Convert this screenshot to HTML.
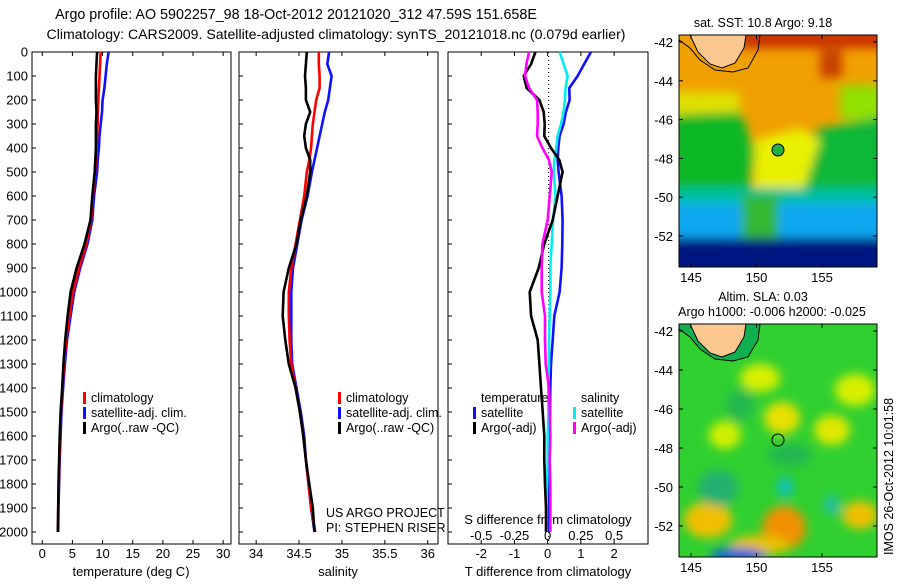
<!DOCTYPE html>
<html><head><meta charset="utf-8"><style>
body{margin:0;background:#fff;}
svg text{font-family:"Liberation Sans",sans-serif;fill:#000;}
</style></head><body>
<svg id="c" width="900" height="580" viewBox="0 0 900 580">
<defs>
<filter id="bl" x="-10%" y="-10%" width="120%" height="120%"><feGaussianBlur stdDeviation="5"/></filter>
<clipPath id="m1c"><rect x="679" y="35" width="198" height="232"/></clipPath>
<clipPath id="m2c"><rect x="679" y="324" width="198" height="233"/></clipPath>
</defs>
<text x="296" y="19" font-size="14.3" text-anchor="middle">Argo profile: AO 5902257_98 18-Oct-2012 20121020_312 47.59S 151.658E</text>
<text x="336" y="39" font-size="14.1" text-anchor="middle">Climatology: CARS2009. Satellite-adjusted climatology: synTS_20121018.nc (0.079d earlier)</text>

<!-- map 1 -->
<g>
<g clip-path="url(#m1c)">
<rect x="679" y="35" width="198" height="232" fill="#f0a000"/>
<g filter="url(#bl)">
<rect x="740" y="30" width="150" height="18" fill="#c83000"/>
<rect x="820" y="50" width="22" height="28" fill="#c84000"/>
<rect x="670" y="92" width="70" height="25" fill="#e0e000"/>
<rect x="840" y="85" width="50" height="35" fill="#90e000"/>
<polygon points="670,115 740,112 755,150 750,190 670,190" fill="#10b828"/>
<polygon points="815,130 890,115 890,195 805,195 800,170" fill="#10b838"/>
<polygon points="755,140 800,128 820,140 800,200 755,200" fill="#e8f000"/>
<rect x="670" y="188" width="230" height="18" fill="#00c0a0"/>
<rect x="670" y="203" width="230" height="35" fill="#10a8f0"/>
<rect x="742" y="195" width="36" height="50" fill="#30b830"/>
<rect x="670" y="238" width="230" height="40" fill="#001880"/>
</g>
<polygon points="679,35 760,35 758,50 748,68 733,72 715,70 700,60 690,48 679,40" fill="none" stroke="#000" stroke-width="1"/>
<polygon points="690,35 746,35 744,48 735,63 722,68 710,64 698,52" fill="#fcc890" stroke="#000" stroke-width="1"/>
</g>
<rect x="679" y="35" width="198" height="232" fill="none" stroke="#000"/>
<circle cx="778" cy="150" r="6" fill="#20b040" stroke="#000" stroke-width="1"/>
</g>
<text x="763" y="27" font-size="12.5" text-anchor="middle">sat. SST: 10.8 Argo: 9.18</text>

<!-- map 2 -->
<g>
<g clip-path="url(#m2c)">
<rect x="679" y="324" width="198" height="233" fill="#30d030"/>
<g filter="url(#bl)">
<ellipse cx="760" cy="378" rx="20" ry="14" fill="#d8f000"/>
<ellipse cx="855" cy="390" rx="20" ry="16" fill="#d8f000"/>
<ellipse cx="725" cy="435" rx="16" ry="14" fill="#d0f000"/>
<ellipse cx="782" cy="418" rx="18" ry="16" fill="#e8e000"/>
<ellipse cx="832" cy="430" rx="18" ry="15" fill="#e0e800"/>
<ellipse cx="740" cy="405" rx="14" ry="16" fill="#20b850"/>
<ellipse cx="790" cy="455" rx="22" ry="12" fill="#20b850"/>
<ellipse cx="708" cy="520" rx="24" ry="18" fill="#f0c000"/>
<ellipse cx="784" cy="528" rx="22" ry="22" fill="#f09000"/>
<ellipse cx="760" cy="545" rx="30" ry="10" fill="#e8c000"/>
<ellipse cx="860" cy="515" rx="18" ry="14" fill="#f0c000"/>
<ellipse cx="718" cy="488" rx="20" ry="18" fill="#20b070"/>
<ellipse cx="785" cy="487" rx="8" ry="10" fill="#10c0c0"/>
<ellipse cx="832" cy="505" rx="8" ry="10" fill="#20c0a0"/>
<ellipse cx="738" cy="556" rx="28" ry="8" fill="#1060e0"/>
</g>
<polygon points="679,324 760,324 758,340 748,357 733,361 715,359 700,349 690,337 679,329" fill="#10b050" stroke="#000" stroke-width="1"/>
<polygon points="690,324 746,324 744,337 735,352 722,357 710,353 698,341" fill="#fcc890" stroke="#000" stroke-width="1"/>
</g>
<rect x="679" y="324" width="198" height="233" fill="none" stroke="#000"/>
<circle cx="778" cy="440" r="6" fill="none" stroke="#000" stroke-width="1"/>
</g>
<text x="763" y="301" font-size="12.5" text-anchor="middle">Altim. SLA: 0.03</text>
<text x="772" y="316" font-size="12.5" text-anchor="middle">Argo h1000: -0.006 h2000: -0.025</text>
<text transform="translate(893,555) rotate(-90)" font-size="12.5">IMOS 26-Oct-2012 10:01:58</text>

<text x="326" y="517" font-size="12.5">US ARGO PROJECT</text>
<text x="326" y="532" font-size="12.5">PI: STEPHEN RISER</text>
</svg>
<script>
const depths=[0,50,100,150,200,250,300,350,400,450,500,600,700,800,900,1000,1100,1200,1300,1400,1500,1600,1700,1800,1900,2000];
const tempArgo=[9.1,9.0,8.9,8.9,8.9,9.0,8.9,8.9,8.9,8.8,8.7,8.3,8.0,7.0,5.7,4.7,4.2,3.8,3.5,3.3,3.05,2.9,2.8,2.7,2.65,2.6];
const tempClim=[9.7,9.6,9.5,9.4,9.3,9.2,9.2,9.1,9.0,8.9,8.75,8.4,8.1,7.3,6.1,5.1,4.5,3.95,3.6,3.35,3.1,2.95,2.85,2.75,2.65,2.6];
const tempSat=[11.0,10.7,10.5,10.3,10.0,9.9,9.7,9.5,9.4,9.2,9.1,8.6,8.3,7.5,6.3,5.3,4.7,4.1,3.75,3.45,3.2,3.05,2.9,2.8,2.7,2.65];
const salArgo=[34.59,34.58,34.57,34.58,34.58,34.63,34.58,34.56,34.58,34.63,34.63,34.59,34.52,34.47,34.38,34.32,34.31,34.34,34.38,34.46,34.51,34.55,34.58,34.62,34.66,34.68];
const salClim=[34.73,34.73,34.74,34.74,34.70,34.68,34.66,34.65,34.64,34.62,34.59,34.56,34.51,34.46,34.41,34.38,34.38,34.39,34.41,34.46,34.51,34.55,34.58,34.61,34.64,34.69];
const salSat=[34.85,34.83,34.88,34.86,34.84,34.80,34.77,34.74,34.71,34.68,34.65,34.60,34.53,34.48,34.43,34.41,34.41,34.41,34.42,34.47,34.52,34.56,34.58,34.61,34.64,34.68];
const tDiffSat=[1.3,1.1,0.9,0.65,0.66,0.55,0.48,0.36,0.32,0.3,0.33,0.42,0.45,0.44,0.42,0.36,0.2,0.15,0.1,0.08,0.07,0.06,0.05,0.05,0.04,0.04];
const tDiffArgo=[-0.37,-0.5,-0.72,-0.63,-0.25,-0.12,-0.09,-0.1,0.1,0.35,0.45,0.3,0.15,-0.1,-0.27,-0.54,-0.5,-0.3,-0.25,-0.2,-0.15,-0.1,-0.1,-0.08,-0.05,-0.05];
const sDiffSat=[0.09,0.12,0.15,0.135,0.13,0.12,0.1,0.075,0.065,0.05,0.045,0.06,0.04,0.03,0.02,0.02,0.015,0.01,0.01,0.005,0.005,0.0,0.0,-0.005,-0.01,-0.01];
const sDiffArgo=[-0.14,-0.16,-0.17,-0.14,-0.08,-0.075,-0.075,-0.08,-0.04,0.01,0.03,0.015,0.0,-0.04,-0.045,-0.045,-0.02,-0.02,-0.015,0.01,0.015,0.02,0.015,0.02,0.02,0.02];
const depthTicks=[0,100,200,300,400,500,600,700,800,900,1000,1100,1200,1300,1400,1500,1600,1700,1800,1900,2000];
const tempTicks=[0,5,10,15,20,25,30];
const salTicks=[34,34.5,35,35.5,36];
const salTickLabels=["34","34.5","35","35.5","36"];
const tdTicks=[-2,-1,0,1,2];
const sdTicks=[-0.5,-0.25,0,0.25,0.5];
const sdTickLabels=["-0.5","-0.25","0","0.25","0.5"];
const lonTicks=[145,150,155];
const latTicks=[-42,-44,-46,-48,-50,-52];

const svg=document.getElementById('c');
const NS='http://www.w3.org/2000/svg';
function mk(tag,attrs,parent){const e=document.createElementNS(NS,tag);for(const k in attrs)e.setAttribute(k,attrs[k]);(parent||svg).appendChild(e);return e;}
const Y=d=>52+d*0.24;
const P=[{x0:32,x1:231,lo:-1.7,hi:31.3},{x0:239,x1:438,lo:33.8,hi:36.12},{x0:448,x1:648,lo:-3.0,hi:3.02}];
function X(p,v){return p.x0+(v-p.lo)/(p.hi-p.lo)*(p.x1-p.x0);}
const BOT=544;

P.forEach((p,i)=>{
  const r=mk('rect',{x:p.x0,y:52,width:p.x1-p.x0,height:BOT-52,fill:'none',stroke:'#000','stroke-width':1});
  
  
});
depthTicks.forEach(d=>{
  [0,1,2].forEach(i=>{mk('line',{x1:P[i].x0,x2:P[i].x0+4,y1:Y(d),y2:Y(d),stroke:'#000'});});
  const t=mk('text',{x:28,y:Y(d)+4.5,'font-size':13,'text-anchor':'end'});t.textContent=d;
  
  
});
function xticks(p,vals,labels,ly,name,top){
  vals.forEach((v,k)=>{const x=X(p,v);
    mk('line',{x1:x,x2:x,y1:BOT,y2:BOT-4,stroke:'#000'});
    if(top)mk('line',{x1:x,x2:x,y1:52,y2:56,stroke:'#000'});
    const t=mk('text',{x:x,y:ly,'font-size':13,'text-anchor':'middle'});t.textContent=labels[k];
    
    
  });
}
xticks(P[0],tempTicks,tempTicks.map(String),558,'temperature-tick-label',true);
xticks(P[1],salTicks,salTickLabels,558,'salinity-tick-label',true);
xticks(P[2],tdTicks,tdTicks.map(String),558,'t-diff-tick-label',true);
const pS={x0:448,x1:648,lo:-0.75,hi:0.755};
sdTicks.forEach((v,k)=>{const t=mk('text',{x:X(pS,v),y:540,'font-size':13,'text-anchor':'middle'});t.textContent=sdTickLabels[k];
  
  });
[[131,'temperature (deg C)','x-axis-title-temperature'],[338,'salinity','x-axis-title-salinity'],[548,'T difference from climatology','x-axis-title-t-diff']].forEach(a=>{
  const t=mk('text',{x:a[0],y:576,'font-size':13,'text-anchor':'middle'});t.textContent=a[1];
  
  });
{const t=mk('text',{x:548,y:524,'font-size':13,'text-anchor':'middle'});t.textContent='S difference from climatology';

}
{const l=mk('line',{x1:X(P[2],0)+1,x2:X(P[2],0)+1,y1:52,y2:BOT,stroke:'#000','stroke-dasharray':'1,3'});

}

function series(p,vals,color,name){
  const pts=vals.map((v,k)=>X(p,v).toFixed(1)+','+Y(depths[k]).toFixed(1)).join(' ');
  const e=mk('polyline',{points:pts,fill:'none',stroke:color,'stroke-width':2.6,'stroke-linejoin':'round'});
  
  
}
series(P[0],tempSat,'#1010ff','temp-satellite-line');
series(P[0],tempClim,'#ff0000','temp-climatology-line');
series(P[0],tempArgo,'#000000','temp-argo-line');
series(P[1],salSat,'#1010ff','sal-satellite-line');
series(P[1],salClim,'#ff0000','sal-climatology-line');
series(P[1],salArgo,'#000000','sal-argo-line');
series(P[2],tDiffSat,'#1010ff','tdiff-satellite-line');
series(pS,sDiffSat,'#00f0f0','sdiff-satellite-line');
series(P[2],tDiffArgo,'#000000','tdiff-argo-line');
series(pS,sDiffArgo,'#ff00ff','sdiff-argo-line');

function legend(x,y,items,name){
  items.forEach((it,k)=>{
    if(it[1]){const b=mk('rect',{x:x,y:y+k*15-10,width:3,height:12,fill:it[1]});
      
      }
    const t=mk('text',{x:x+8,y:y+k*15,'font-size':12.5});t.textContent=it[0];
    
    
  });
}
const L=[['climatology','#ff0000'],['satellite-adj. clim.','#1010ff'],['Argo(..raw -QC)','#000']];
legend(83,402,L,'temp-legend');
legend(338,402,L,'sal-legend');
legend(473,402,[['temperature',null],['satellite','#1010ff'],['Argo(-adj)','#000']],'tdiff-legend');
legend(573,402,[['salinity',null],['satellite','#00f0f0'],['Argo(-adj)','#ff00ff']],'sdiff-legend');

function mapAxes(top,bot,latY0,step,tag){
  latTicks.forEach((la,k)=>{const y=latY0+k*step;
    mk('line',{x1:679,x2:683,y1:y,y2:y,stroke:'#000'});mk('line',{x1:873,x2:877,y1:y,y2:y,stroke:'#000'});
    const t=mk('text',{x:673,y:y+5,'font-size':13,'text-anchor':'end'});t.textContent=la;
    
    });
  lonTicks.forEach(lo=>{const x=691+(lo-145)*13.1;
    mk('line',{x1:x,x2:x,y1:bot,y2:bot-4,stroke:'#000'});mk('line',{x1:x,x2:x,y1:top,y2:top+4,stroke:'#000'});
    const t=mk('text',{x:x,y:bot+15,'font-size':13,'text-anchor':'middle'});t.textContent=lo;
    
    });
}
mapAxes(35,267,42,38.8,'sst-map');
mapAxes(324,557,331,39,'sla-map');
</script>
</body></html>
